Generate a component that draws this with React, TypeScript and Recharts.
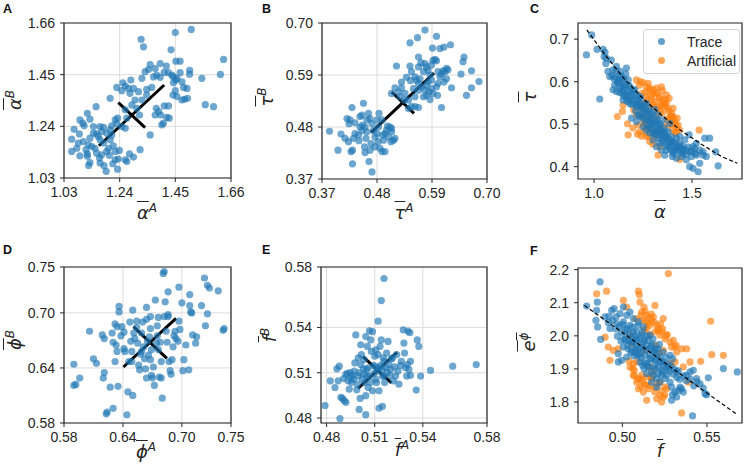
import React from 'react';
import {
  ScatterChart,
  Scatter,
  XAxis,
  YAxis,
  CartesianGrid,
  ReferenceLine,
  ReferenceArea,
} from 'recharts';

type Pt = [number, number];

const BLUE = '#1f77b4';
const ORANGE = '#ff7f0e';
const INK = '#262626';

// A: mean alpha, group A vs group B
const alphaAB: Pt[] = [
  [1.321, 1.594], [1.33, 1.563], [1.45, 1.621], [1.51, 1.634], [1.434, 1.551], [1.632, 1.512],
  [1.452, 1.505], [1.468, 1.505], [1.62, 1.451], [1.55, 1.435], [1.563, 1.328], [1.594, 1.32],
  [1.355, 1.491], [1.393, 1.495], [1.374, 1.475], [1.416, 1.485], [1.336, 1.462], [1.349, 1.471],
  [1.408, 1.459], [1.424, 1.458], [1.437, 1.448], [1.443, 1.441], [1.456, 1.435], [1.468, 1.458],
  [1.504, 1.468], [1.504, 1.452], [1.324, 1.435], [1.368, 1.441], [1.38, 1.448], [1.393, 1.439],
  [1.361, 1.398], [1.443, 1.417], [1.453, 1.428], [1.475, 1.421], [1.494, 1.394], [1.481, 1.398],
  [1.45, 1.385], [1.456, 1.361], [1.441, 1.367], [1.475, 1.347], [1.485, 1.35], [1.496, 1.354],
  [1.424, 1.323], [1.408, 1.323], [1.378, 1.313], [1.374, 1.286], [1.387, 1.3], [1.395, 1.286],
  [1.405, 1.253], [1.399, 1.246], [1.418, 1.277], [1.427, 1.273], [1.324, 1.347], [1.342, 1.39],
  [1.342, 1.367], [1.311, 1.381], [1.282, 1.428], [1.273, 1.394], [1.261, 1.404], [1.252, 1.417],
  [1.229, 1.398], [1.204, 1.354], [1.248, 1.385], [1.279, 1.374], [1.292, 1.394], [1.298, 1.347],
  [1.305, 1.313], [1.315, 1.286], [1.286, 1.327], [1.261, 1.307], [1.232, 1.273], [1.223, 1.266],
  [1.267, 1.273], [1.261, 1.232], [1.248, 1.239], [1.229, 1.25], [1.21, 1.242], [1.204, 1.226],
  [1.355, 1.205], [1.317, 1.145], [1.292, 1.115], [1.277, 1.128], [1.267, 1.097], [1.261, 1.104],
  [1.059, 1.188], [1.068, 1.228], [1.088, 1.209], [1.09, 1.266], [1.101, 1.253], [1.106, 1.242],
  [1.118, 1.293], [1.128, 1.269], [1.151, 1.32], [1.166, 1.239], [1.179, 1.236], [1.172, 1.219],
  [1.153, 1.209], [1.141, 1.212], [1.128, 1.192], [1.122, 1.165], [1.135, 1.158], [1.103, 1.178],
  [1.084, 1.172], [1.118, 1.128], [1.09, 1.12], [1.118, 1.118], [1.128, 1.093], [1.123, 1.081],
  [1.164, 1.111], [1.166, 1.091], [1.181, 1.08], [1.189, 1.057], [1.191, 1.138], [1.198, 1.151],
  [1.216, 1.161], [1.204, 1.185], [1.21, 1.205], [1.191, 1.212], [1.179, 1.172], [1.166, 1.185],
  [1.223, 1.104], [1.214, 1.088], [1.232, 1.066], [1.235, 1.107], [1.239, 1.142], [1.223, 1.138],
  [1.078, 1.151], [1.059, 1.138], [1.113, 1.145], [1.147, 1.151], [1.153, 1.131], [1.172, 1.124],
  [1.201, 1.122], [1.141, 1.239], [1.16, 1.199],
];

// B: mean tau, group A vs group B
const tauAB: Pt[] = [
  [0.385, 0.471], [0.402, 0.431], [0.408, 0.465], [0.42, 0.498], [0.424, 0.487], [0.426, 0.495],
  [0.43, 0.521], [0.431, 0.431], [0.433, 0.456], [0.436, 0.466], [0.431, 0.402], [0.443, 0.463],
  [0.446, 0.502], [0.45, 0.505], [0.453, 0.53], [0.451, 0.484], [0.456, 0.48], [0.46, 0.495],
  [0.463, 0.509], [0.466, 0.498], [0.47, 0.487], [0.473, 0.473], [0.458, 0.456], [0.455, 0.438],
  [0.456, 0.426], [0.466, 0.431], [0.468, 0.445], [0.476, 0.459], [0.48, 0.466], [0.483, 0.48],
  [0.484, 0.509], [0.49, 0.495], [0.491, 0.463], [0.496, 0.466], [0.499, 0.473], [0.503, 0.459],
  [0.506, 0.48], [0.509, 0.47], [0.513, 0.452], [0.516, 0.456], [0.508, 0.449], [0.49, 0.428],
  [0.486, 0.435], [0.496, 0.428], [0.464, 0.407], [0.47, 0.385], [0.46, 0.47], [0.444, 0.451],
  [0.423, 0.449], [0.416, 0.456], [0.428, 0.428], [0.476, 0.438], [0.482, 0.449], [0.493, 0.452],
  [0.436, 0.489], [0.446, 0.48], [0.48, 0.495], [0.501, 0.482], [0.509, 0.477], [0.45, 0.472],
  [0.519, 0.609], [0.529, 0.575], [0.539, 0.585], [0.516, 0.563], [0.523, 0.554], [0.526, 0.544],
  [0.536, 0.551], [0.546, 0.609], [0.549, 0.597], [0.547, 0.578], [0.556, 0.586], [0.559, 0.579],
  [0.563, 0.572], [0.566, 0.582], [0.563, 0.607], [0.568, 0.616], [0.573, 0.597], [0.576, 0.614],
  [0.579, 0.607], [0.582, 0.6], [0.586, 0.59], [0.589, 0.611], [0.592, 0.621], [0.596, 0.623],
  [0.599, 0.62], [0.602, 0.597], [0.606, 0.586], [0.609, 0.592], [0.612, 0.599], [0.616, 0.597],
  [0.619, 0.604], [0.622, 0.601], [0.614, 0.575], [0.599, 0.565], [0.589, 0.561], [0.584, 0.554],
  [0.579, 0.547], [0.573, 0.544], [0.569, 0.565], [0.563, 0.558], [0.553, 0.561], [0.556, 0.544],
  [0.543, 0.537], [0.549, 0.523], [0.556, 0.523], [0.563, 0.521], [0.543, 0.519], [0.535, 0.537],
  [0.586, 0.538], [0.592, 0.551], [0.601, 0.547], [0.609, 0.521], [0.629, 0.563], [0.648, 0.592],
  [0.652, 0.618], [0.654, 0.628], [0.669, 0.599], [0.669, 0.563], [0.659, 0.547], [0.684, 0.576],
  [0.606, 0.646], [0.614, 0.649], [0.627, 0.654], [0.591, 0.647], [0.561, 0.669], [0.576, 0.685],
  [0.599, 0.672], [0.546, 0.658], [0.563, 0.628], [0.509, 0.551], [0.529, 0.563], [0.579, 0.568],
  [0.575, 0.559], [0.602, 0.572], [0.619, 0.582], [0.589, 0.579], [0.582, 0.575],
];

// C: mean alpha vs mean tau
const traceAlphaTau: Pt[] = [
  [0.961, 0.663], [0.988, 0.71], [1.015, 0.676], [1.046, 0.676], [1.056, 0.669], [1.051, 0.659],
  [1.063, 0.655], [1.06, 0.643], [1.029, 0.559], [1.088, 0.651], [1.097, 0.628], [1.114, 0.636],
  [1.134, 0.624], [1.139, 0.612], [1.148, 0.6], [1.122, 0.6], [1.105, 0.592], [1.097, 0.581],
  [1.114, 0.577], [1.131, 0.585], [1.156, 0.592], [1.165, 0.632], [1.162, 0.618], [1.174, 0.604],
  [1.182, 0.588], [1.191, 0.573], [1.145, 0.573], [1.165, 0.565], [1.199, 0.557], [1.182, 0.549],
  [1.216, 0.541], [1.225, 0.557], [1.233, 0.565], [1.208, 0.581], [1.174, 0.557], [1.148, 0.557],
  [1.236, 0.541], [1.25, 0.526], [1.259, 0.534], [1.267, 0.51], [1.242, 0.518], [1.225, 0.522],
  [1.216, 0.506], [1.191, 0.514], [1.284, 0.494], [1.301, 0.502], [1.318, 0.486], [1.31, 0.482],
  [1.284, 0.479], [1.267, 0.486], [1.327, 0.475], [1.344, 0.471], [1.352, 0.463], [1.335, 0.455],
  [1.318, 0.447], [1.301, 0.463], [1.369, 0.467], [1.386, 0.455], [1.395, 0.471], [1.403, 0.459],
  [1.42, 0.447], [1.412, 0.439], [1.429, 0.439], [1.446, 0.443], [1.454, 0.431], [1.471, 0.439],
  [1.488, 0.435], [1.488, 0.4], [1.505, 0.396], [1.531, 0.388], [1.497, 0.424], [1.522, 0.427],
  [1.539, 0.439], [1.556, 0.435], [1.565, 0.467], [1.59, 0.467], [1.539, 0.408], [1.573, 0.424],
  [1.556, 0.427], [1.633, 0.402], [1.621, 0.435], [1.485, 0.475], [1.463, 0.463], [1.437, 0.455],
  [1.352, 0.51], [1.335, 0.498], [1.361, 0.482], [1.378, 0.482], [1.386, 0.502], [1.327, 0.522],
  [1.31, 0.534], [1.293, 0.522], [1.276, 0.53], [1.25, 0.494], [1.318, 0.506], [1.344, 0.439],
  [1.361, 0.427], [1.378, 0.447], [1.4, 0.435], [1.471, 0.416], [1.446, 0.424], [1.42, 0.42],
  [1.4, 0.424], [1.505, 0.447], [1.522, 0.455], [1.514, 0.443], [1.454, 0.447], [1.242, 0.545],
  [1.267, 0.549], [1.287, 0.51], [1.301, 0.479], [1.335, 0.482], [1.369, 0.439], [1.437, 0.471],
  [1.42, 0.467], [1.08, 0.612], [1.071, 0.624],
  [1.092, 0.614], [1.103, 0.606], [1.108, 0.611], [1.121, 0.596], [1.128, 0.603], [1.142, 0.588],
  [1.151, 0.579], [1.158, 0.586], [1.168, 0.571], [1.179, 0.576], [1.188, 0.561], [1.203, 0.566],
  [1.209, 0.549], [1.221, 0.546], [1.228, 0.552], [1.241, 0.536], [1.252, 0.541], [1.262, 0.521],
  [1.271, 0.526], [1.279, 0.509], [1.291, 0.516], [1.298, 0.499], [1.312, 0.506], [1.321, 0.494],
  [1.331, 0.489], [1.342, 0.486], [1.349, 0.478], [1.362, 0.474], [1.371, 0.469], [1.382, 0.466],
  [1.391, 0.458], [1.398, 0.449], [1.411, 0.456], [1.421, 0.444], [1.432, 0.451], [1.441, 0.434],
  [1.452, 0.441], [1.468, 0.429], [1.481, 0.446], [1.499, 0.436], [1.518, 0.431], [1.131, 0.574],
  [1.152, 0.566], [1.169, 0.554], [1.192, 0.546], [1.212, 0.531], [1.229, 0.519], [1.251, 0.511],
  [1.272, 0.498], [1.288, 0.491], [1.309, 0.476], [1.329, 0.466], [1.352, 0.456], [1.368, 0.451],
  [1.389, 0.441], [1.408, 0.431], [1.112, 0.626], [1.129, 0.614], [1.152, 0.606], [1.178, 0.591],
  [1.199, 0.581], [1.219, 0.569], [1.238, 0.561], [1.261, 0.546], [1.282, 0.536], [1.299, 0.524],
  [1.322, 0.511], [1.338, 0.501], [1.359, 0.491],
];
const artificialAlphaTau: Pt[] = [
  [1.119, 0.518], [1.145, 0.53], [1.148, 0.545], [1.174, 0.475], [1.242, 0.472], [1.216, 0.604],
  [1.236, 0.6], [1.25, 0.598], [1.267, 0.588], [1.276, 0.596], [1.284, 0.585], [1.301, 0.581],
  [1.318, 0.585], [1.335, 0.565], [1.349, 0.579], [1.352, 0.557], [1.369, 0.549], [1.361, 0.541],
  [1.378, 0.537], [1.395, 0.526], [1.403, 0.518], [1.386, 0.514], [1.412, 0.502], [1.42, 0.494],
  [1.429, 0.498], [1.437, 0.486], [1.42, 0.482], [1.4, 0.488], [1.378, 0.498], [1.338, 0.53],
  [1.327, 0.541], [1.31, 0.553], [1.293, 0.557], [1.267, 0.565], [1.259, 0.549], [1.242, 0.534],
  [1.25, 0.514], [1.225, 0.498], [1.233, 0.482], [1.267, 0.471], [1.284, 0.459], [1.301, 0.453],
  [1.31, 0.469], [1.276, 0.49], [1.318, 0.518], [1.335, 0.447], [1.352, 0.494], [1.327, 0.427],
  [1.437, 0.417], [1.536, 0.486], [1.349, 0.545], [1.369, 0.569], [1.383, 0.561], [1.403, 0.537],
  [1.424, 0.514], [1.412, 0.479], [1.395, 0.506], [1.293, 0.541], [1.281, 0.514], [1.259, 0.502],
  [1.202, 0.534], [1.216, 0.522], [1.298, 0.573], [1.321, 0.574], [1.344, 0.588], [1.366, 0.557],
  [1.301, 0.486], [1.259, 0.482],
  [1.231, 0.591], [1.262, 0.576], [1.289, 0.566], [1.312, 0.571], [1.331, 0.561], [1.342, 0.551],
  [1.358, 0.546], [1.381, 0.531], [1.392, 0.519], [1.409, 0.511], [1.302, 0.546], [1.322, 0.536],
  [1.348, 0.526], [1.372, 0.512], [1.401, 0.501], [1.271, 0.556], [1.281, 0.581], [1.243, 0.572],
  [1.198, 0.491], [1.222, 0.476], [1.279, 0.471], [1.171, 0.501], [1.256, 0.496],
];
const fitAlphaTau: Pt[] = [
  [0.963, 0.722], [1.05, 0.667], [1.15, 0.609], [1.25, 0.56], [1.35, 0.519],
  [1.45, 0.483], [1.55, 0.452], [1.65, 0.424], [1.731, 0.408],
];

// D: mean phi, group A vs group B
const phiAB: Pt[] = [
  [0.59, 0.644], [0.592, 0.622], [0.59, 0.621], [0.596, 0.629], [0.606, 0.68], [0.61, 0.65],
  [0.613, 0.645], [0.619, 0.676], [0.621, 0.672], [0.62, 0.629], [0.621, 0.635], [0.623, 0.59],
  [0.624, 0.592], [0.627, 0.619], [0.63, 0.596], [0.629, 0.678], [0.63, 0.668], [0.632, 0.688],
  [0.634, 0.685], [0.633, 0.665], [0.634, 0.658], [0.632, 0.647], [0.635, 0.62], [0.636, 0.707],
  [0.636, 0.701], [0.638, 0.675], [0.639, 0.685], [0.641, 0.679], [0.641, 0.661], [0.642, 0.658],
  [0.644, 0.589], [0.645, 0.614], [0.646, 0.647], [0.647, 0.69], [0.648, 0.669], [0.649, 0.658],
  [0.65, 0.703], [0.65, 0.61], [0.649, 0.647], [0.651, 0.678], [0.652, 0.672], [0.654, 0.684],
  [0.655, 0.667], [0.656, 0.643], [0.657, 0.638], [0.658, 0.655], [0.659, 0.678], [0.66, 0.69],
  [0.661, 0.663], [0.662, 0.65], [0.663, 0.639], [0.664, 0.706], [0.664, 0.629], [0.665, 0.669],
  [0.666, 0.654], [0.667, 0.674], [0.668, 0.683], [0.668, 0.696], [0.669, 0.66], [0.67, 0.629],
  [0.671, 0.641], [0.672, 0.621], [0.673, 0.714], [0.675, 0.675], [0.675, 0.686], [0.676, 0.66],
  [0.677, 0.63], [0.678, 0.668], [0.679, 0.647], [0.679, 0.629], [0.68, 0.607], [0.681, 0.743],
  [0.682, 0.745], [0.682, 0.696], [0.683, 0.712], [0.684, 0.68], [0.685, 0.668], [0.686, 0.723],
  [0.686, 0.696], [0.687, 0.647], [0.688, 0.637], [0.689, 0.633], [0.69, 0.649], [0.691, 0.663],
  [0.692, 0.675], [0.693, 0.68], [0.694, 0.672], [0.696, 0.669], [0.697, 0.691], [0.697, 0.728],
  [0.698, 0.682], [0.7, 0.711], [0.701, 0.637], [0.702, 0.649], [0.704, 0.665], [0.707, 0.638],
  [0.708, 0.708], [0.708, 0.72], [0.709, 0.701], [0.71, 0.7], [0.711, 0.676], [0.714, 0.667],
  [0.715, 0.674], [0.72, 0.708], [0.723, 0.738], [0.724, 0.686], [0.726, 0.73], [0.728, 0.727],
  [0.726, 0.699], [0.737, 0.724], [0.742, 0.681], [0.743, 0.683], [0.668, 0.649], [0.674, 0.667],
  [0.664, 0.693], [0.654, 0.691], [0.659, 0.658], [0.676, 0.695], [0.686, 0.698], [0.669, 0.632],
];

// E: mean f, group A vs group B
const fAB: Pt[] = [
  [0.5158, 0.5724], [0.5141, 0.5578], [0.5121, 0.5441], [0.5586, 0.5143], [0.5733, 0.5154],
  [0.5448, 0.5115], [0.5386, 0.5078], [0.5359, 0.4985], [0.479, 0.4883], [0.4883, 0.4796],
  [0.5127, 0.4865], [0.5148, 0.4878], [0.5044, 0.4822], [0.5003, 0.4857], [0.4823, 0.5046],
  [0.4852, 0.5002], [0.4864, 0.5126], [0.4879, 0.5143], [0.4872, 0.5046], [0.4889, 0.4937],
  [0.4899, 0.493], [0.491, 0.4915], [0.492, 0.4904], [0.4906, 0.5061], [0.492, 0.5089],
  [0.493, 0.5096], [0.4934, 0.5046], [0.4941, 0.4991], [0.4947, 0.51], [0.4951, 0.5067],
  [0.4955, 0.5035], [0.4961, 0.5083], [0.4972, 0.5111], [0.4968, 0.5057], [0.4976, 0.5165],
  [0.4982, 0.535], [0.4988, 0.4987], [0.4992, 0.5024], [0.4997, 0.5078], [0.5003, 0.51],
  [0.5009, 0.493], [0.5013, 0.5285], [0.5017, 0.522], [0.5023, 0.5057], [0.503, 0.5126],
  [0.5034, 0.5187], [0.5038, 0.5035], [0.5044, 0.4948], [0.505, 0.5122], [0.5054, 0.5274],
  [0.5059, 0.5002], [0.5065, 0.5078], [0.5067, 0.5378], [0.5075, 0.5317], [0.5079, 0.5241],
  [0.5086, 0.498], [0.5092, 0.5148], [0.5096, 0.5096], [0.51, 0.5209], [0.5106, 0.5057],
  [0.5112, 0.5035], [0.5117, 0.5111], [0.5121, 0.522], [0.5127, 0.498], [0.5133, 0.5274],
  [0.5137, 0.5148], [0.5141, 0.5317], [0.5148, 0.5078], [0.5154, 0.5198], [0.5158, 0.5176],
  [0.5162, 0.5035], [0.5168, 0.5133], [0.5174, 0.523], [0.5179, 0.51], [0.5183, 0.5307],
  [0.5189, 0.5154], [0.5195, 0.5083], [0.5199, 0.5122], [0.5203, 0.5191], [0.521, 0.5198],
  [0.5216, 0.5046], [0.5224, 0.5139], [0.523, 0.5078], [0.5237, 0.522], [0.5245, 0.5111],
  [0.5251, 0.5024], [0.5261, 0.5148], [0.5266, 0.5176], [0.5278, 0.5383], [0.5282, 0.5296],
  [0.5286, 0.523], [0.5292, 0.5133], [0.5299, 0.5078], [0.5303, 0.5154], [0.5307, 0.5376],
  [0.5313, 0.5122], [0.5319, 0.5365], [0.5323, 0.5176], [0.5323, 0.5083], [0.5365, 0.5317],
  [0.5375, 0.5274], [0.5044, 0.5339], [0.5086, 0.5372], [0.5106, 0.5252], [0.4997, 0.5198],
  [0.5013, 0.5154], [0.5034, 0.5089], [0.5059, 0.5133], [0.5075, 0.5035], [0.5106, 0.5139],
  [0.5127, 0.5133], [0.5148, 0.5122], [0.5158, 0.5078], [0.505, 0.5078],
];

// F: mean f vs mean e^phi
const traceFPhi: Pt[] = [
  [0.4789, 2.09], [0.4868, 2.163], [0.4852, 2.102], [0.4848, 2.077], [0.4844, 2.047], [0.4854, 2.027],
  [0.4872, 1.989], [0.4898, 2.057], [0.4917, 2.04], [0.4927, 2.022], [0.4937, 2.077], [0.4951, 2.082],
  [0.4963, 2.057], [0.4967, 2.037], [0.4976, 1.946], [0.4986, 2.067], [0.4996, 2.012], [0.5006, 2.042],
  [0.5016, 2.002], [0.5022, 1.986], [0.503, 2.022], [0.5035, 1.961], [0.5045, 2.032], [0.5055, 1.996],
  [0.5061, 1.981], [0.5065, 2.012], [0.5075, 1.951], [0.5081, 1.971], [0.5085, 1.991], [0.5089, 1.941],
  [0.5095, 1.961], [0.5104, 1.921], [0.5114, 1.951], [0.512, 1.911], [0.5128, 1.901], [0.5134, 1.941],
  [0.5144, 1.916], [0.5154, 1.906], [0.5163, 1.931], [0.5173, 1.891], [0.5183, 1.881], [0.5193, 1.901],
  [0.5203, 1.871], [0.5213, 1.886], [0.5222, 1.86], [0.5232, 1.881], [0.5242, 1.891], [0.5252, 1.871],
  [0.5262, 1.881], [0.5272, 1.901], [0.5282, 1.86], [0.5291, 1.845], [0.5297, 1.822], [0.5311, 1.83],
  [0.5321, 1.815], [0.5331, 1.835], [0.5341, 1.845], [0.535, 1.84], [0.536, 1.83], [0.538, 1.881],
  [0.54, 1.891], [0.5419, 1.896], [0.5439, 1.871], [0.5459, 1.855], [0.5478, 1.842], [0.5488, 1.825],
  [0.5498, 1.822], [0.5508, 1.873], [0.5597, 1.901], [0.5679, 1.891], [0.5291, 1.805], [0.5415, 1.758],
  [0.5282, 1.941], [0.5297, 1.931], [0.4996, 1.926], [0.4976, 1.921], [0.5006, 1.966], [0.5026, 2.062],
  [0.5045, 2.072], [0.5065, 2.052], [0.5114, 2.002], [0.5124, 1.981], [0.5144, 1.971], [0.5163, 1.961],
  [0.5183, 1.951], [0.5203, 1.941], [0.5222, 1.921], [0.5242, 1.911], [0.5262, 1.906], [0.5193, 1.926],
  [0.5213, 1.906], [0.5232, 1.896], [0.5144, 1.886], [0.5173, 1.86], [0.5203, 1.845], [0.5321, 1.891],
  [0.5144, 2.0], [0.5085, 2.012], [0.5055, 1.956], [0.5026, 1.936], [0.5095, 2.042], [0.5124, 2.027],
  [0.5163, 2.002], [0.5006, 2.087],
  [0.5003, 2.034], [0.5021, 2.019], [0.5042, 2.006], [0.5061, 2.026], [0.5072, 1.999], [0.5083, 1.984],
  [0.5092, 2.031], [0.5101, 1.994], [0.5113, 1.976], [0.5119, 2.011], [0.5132, 1.988], [0.5141, 1.959],
  [0.5152, 1.986], [0.5161, 1.944], [0.5172, 1.969], [0.5181, 1.991], [0.5188, 1.954], [0.5201, 1.929],
  [0.5209, 1.961], [0.5221, 1.939], [0.5229, 1.924], [0.5241, 1.951], [0.5249, 1.919], [0.5259, 1.934],
  [0.5271, 1.914], [0.5279, 1.894], [0.5289, 1.909], [0.5302, 1.884], [0.5308, 1.899], [0.5322, 1.874],
  [0.5331, 1.894], [0.5339, 1.869], [0.5362, 1.879], [0.5378, 1.864], [0.5401, 1.869], [0.5422, 1.849],
  [0.5441, 1.861], [0.5032, 1.971], [0.5051, 1.949], [0.5069, 1.939], [0.5012, 1.989], [0.4982, 2.029],
  [0.4961, 2.021], [0.4942, 2.046], [0.4922, 2.059], [0.4971, 1.999], [0.4992, 1.984], [0.5111, 1.934],
  [0.5129, 1.919], [0.5151, 1.909], [0.5169, 1.929], [0.5191, 1.909], [0.5079, 1.961], [0.5098, 1.944],
  [0.5121, 1.964], [0.5059, 1.979], [0.5041, 1.984], [0.5178, 1.974], [0.5198, 1.959], [0.5219, 1.974],
];
const artificialFPhi: Pt[] = [
  [0.4848, 2.127], [0.4907, 2.135], [0.4898, 1.996], [0.4917, 1.966], [0.4927, 1.926], [0.4947, 1.956],
  [0.4976, 1.961], [0.5006, 2.107], [0.5026, 2.087], [0.5041, 2.002], [0.5055, 1.976], [0.5045, 1.906],
  [0.5065, 1.916], [0.5071, 1.896], [0.5085, 1.921], [0.5095, 2.135], [0.51, 2.124], [0.5104, 2.102],
  [0.5114, 2.072], [0.512, 2.047], [0.5128, 2.087], [0.5134, 2.074], [0.5144, 2.062], [0.5154, 2.037],
  [0.5144, 2.022], [0.5163, 2.004], [0.5173, 2.047], [0.5183, 2.057], [0.5193, 2.092], [0.5199, 1.971],
  [0.5203, 2.032], [0.5213, 2.022], [0.5222, 2.002], [0.5232, 2.012], [0.5242, 2.052], [0.5252, 1.991],
  [0.5266, 2.004], [0.5272, 2.188], [0.5282, 1.981], [0.5291, 1.966], [0.5311, 1.966], [0.5321, 1.951],
  [0.535, 1.961], [0.538, 1.961], [0.5193, 2.012], [0.5085, 1.86], [0.5095, 1.84], [0.5104, 1.871],
  [0.5114, 1.881], [0.5124, 1.83], [0.5144, 1.805], [0.5154, 1.84], [0.5163, 1.85], [0.5173, 1.871],
  [0.5183, 1.891], [0.5193, 1.845], [0.5203, 1.81], [0.5222, 1.82], [0.5232, 1.8], [0.5242, 1.815],
  [0.5252, 1.845], [0.5262, 1.84], [0.5128, 1.855], [0.535, 1.767], [0.5463, 1.923], [0.5522, 2.044],
  [0.5528, 1.943], [0.5597, 1.941], [0.54, 1.921], [0.539, 1.86], [0.536, 1.906], [0.5282, 1.916],
  [0.5311, 1.921], [0.5242, 1.956], [0.5213, 1.946], [0.5134, 1.956], [0.5163, 1.906], [0.5222, 1.86],
  [0.5065, 1.881], [0.5144, 1.876],
  [0.5081, 2.051], [0.5109, 2.061], [0.5139, 2.044], [0.5161, 2.031], [0.5189, 2.041], [0.5211, 2.016],
  [0.5238, 2.021], [0.5259, 2.001], [0.5131, 2.019], [0.5171, 2.066], [0.5071, 1.879], [0.5092, 1.869],
  [0.5118, 1.866], [0.5141, 1.851], [0.5169, 1.874], [0.5191, 1.831], [0.5211, 1.856], [0.5229, 1.834],
  [0.5251, 1.821], [0.5109, 1.846], [0.5061, 1.901], [0.5039, 1.924], [0.5301, 1.986], [0.5318, 1.971],
  [0.5226, 2.036], [0.5156, 2.054],
];
const fitFPhi: Pt[] = [[0.4776, 2.092], [0.567, 1.765]];

// principal axes drawn as [x1, y1, x2, y2]
const crossA = [[1.162, 1.161, 1.408, 1.408], [1.235, 1.336, 1.336, 1.235]];
const crossB = [[0.468, 0.468, 0.594, 0.594], [0.5095, 0.554, 0.554, 0.509]];
const crossD = [[0.6405, 0.641, 0.694, 0.694], [0.6507, 0.685, 0.6847, 0.6505]];
const crossE = [[0.4996, 0.4996, 0.5239, 0.5235], [0.5027, 0.5206, 0.5204, 0.5033]];

const ticksA = [1.03, 1.24, 1.45, 1.66];
const ticksB = [0.37, 0.48, 0.59, 0.7];
const ticksCx = [1.0, 1.5];
const ticksCy = [0.4, 0.5, 0.6, 0.7];
const ticksD = [0.58, 0.64, 0.7, 0.75];
const ticksE = [0.48, 0.51, 0.54, 0.58];
const ticksFx = [0.5, 0.55];
const ticksFy = [1.8, 1.9, 2.0, 2.1, 2.2];

const legendItems = [
  { label: 'Trace', color: BLUE },
  { label: 'Artificial', color: ORANGE },
];

const toRows = (pts: Pt[]) => pts.map(([x, y]) => ({ x, y }));

const dot = (color: string) => (props: any) => (
  <circle cx={props.cx} cy={props.cy} r={3.6} fill={color} fillOpacity={0.65} />
);

const tickStyle = { fontSize: 14, fill: INK, fontFamily: '"Liberation Sans", Arial, sans-serif' };

interface PanelProps {
  left: number;
  top: number;
  w: number;
  h: number;
  xDomain: [number, number];
  yDomain: [number, number];
  xTicks: number[];
  yTicks: number[];
  xDigits: number;
  yDigits: number;
  grid?: boolean;
  series: { pts: Pt[]; color: string }[];
  cross?: number[][];
  fit?: Pt[];
}

const Panel: React.FC<PanelProps> = ({
  left, top, w, h, xDomain, yDomain, xTicks, yTicks, xDigits, yDigits, grid, series, cross, fit,
}) => (
  <div style={{ position: 'absolute', left: left - 60, top: top - 10 }}>
    <ScatterChart width={w + 85} height={h + 50} margin={{ top: 10, right: 25, bottom: 0, left: 0 }}>
      {grid && <CartesianGrid stroke="#dcdcdc" strokeWidth={1} />}
      <XAxis
        type="number"
        dataKey="x"
        domain={xDomain}
        ticks={xTicks}
        interval={0}
        allowDataOverflow
        height={40}
        axisLine={false}
        tickSize={4}
        tickMargin={5}
        tickLine={{ stroke: INK }}
        tick={tickStyle}
        tickFormatter={(v: number) => v.toFixed(xDigits)}
      />
      <YAxis
        type="number"
        dataKey="y"
        domain={yDomain}
        ticks={yTicks}
        interval={0}
        allowDataOverflow
        width={60}
        axisLine={false}
        tickSize={4}
        tickMargin={5}
        tickLine={{ stroke: INK }}
        tick={tickStyle}
        tickFormatter={(v: number) => v.toFixed(yDigits)}
      />
      {series.map((s, i) => (
        <Scatter key={i} data={toRows(s.pts)} shape={dot(s.color)} isAnimationActive={false} />
      ))}
      {fit && (
        <Scatter
          data={toRows(fit)}
          line={{ stroke: '#000', strokeWidth: 1.2, strokeDasharray: '4 2.5' }}
          lineType="joint"
          shape={() => <g />}
          isAnimationActive={false}
        />
      )}
      {cross &&
        cross.map(([x1, y1, x2, y2], i) => (
          <ReferenceLine
            key={i}
            segment={[{ x: x1, y: y1 }, { x: x2, y: y2 }]}
            stroke="#000"
            strokeWidth={3}
          />
        ))}
      <ReferenceArea
        x1={xDomain[0]}
        x2={xDomain[1]}
        y1={yDomain[0]}
        y2={yDomain[1]}
        fill="none"
        stroke={INK}
        strokeWidth={1.2}
        ifOverflow="visible"
      />
    </ScatterChart>
  </div>
);

const labelFont = '"DejaVu Sans", sans-serif';

const AxisLabel = ({ x, y, rotate, children }: { x: number; y: number; rotate?: boolean; children: React.ReactNode }) => (
  <div
    style={{
      position: 'absolute',
      left: x,
      top: y,
      transform: `translate(-50%, -50%)${rotate ? ' rotate(-90deg)' : ''}`,
      fontFamily: labelFont,
      fontSize: 18,
      color: INK,
      whiteSpace: 'nowrap',
      lineHeight: 1,
    }}
  >
    {children}
  </div>
);

const Bar = ({ s }: { s: string }) => (
  <span style={{ textDecoration: 'overline', fontStyle: 'italic' }}>{s}</span>
);
const Sup = ({ s }: { s: string }) => (
  <sup style={{ fontSize: 12, fontStyle: 'italic', verticalAlign: 'super' }}>{s}</sup>
);

const PanelLetter = ({ x, y, s }: { x: number; y: number; s: string }) => (
  <div
    style={{
      position: 'absolute',
      left: x,
      top: y,
      fontFamily: '"Liberation Sans", Arial, sans-serif',
      fontWeight: 'bold',
      fontSize: 12.5,
      color: '#111',
      lineHeight: 1,
    }}
  >
    {s}
  </div>
);

export default function App() {
  return (
    <div style={{ position: 'absolute', left: 0, top: 0, width: 747, height: 472, background: '#fff', overflow: 'hidden' }}>
      <Panel left={64} top={23} w={167} h={155} xDomain={[1.03, 1.66]} yDomain={[1.03, 1.66]}
        xTicks={ticksA} yTicks={ticksA} xDigits={2} yDigits={2} grid
        series={[{ pts: alphaAB, color: BLUE }]} cross={crossA} />
      <Panel left={322} top={23} w={165} h={156} xDomain={[0.37, 0.7]} yDomain={[0.37, 0.7]}
        xTicks={ticksB} yTicks={ticksB} xDigits={2} yDigits={2} grid
        series={[{ pts: tauAB, color: BLUE }]} cross={crossB} />
      <Panel left={578} top={23} w={164} h={156} xDomain={[0.918, 1.755]} yDomain={[0.371, 0.738]}
        xTicks={ticksCx} yTicks={ticksCy} xDigits={1} yDigits={1}
        series={[{ pts: artificialAlphaTau, color: ORANGE }, { pts: traceAlphaTau, color: BLUE }]}
        fit={fitAlphaTau} />
      <Panel left={64} top={267} w={167} h={156} xDomain={[0.58, 0.75]} yDomain={[0.58, 0.75]}
        xTicks={ticksD} yTicks={ticksD} xDigits={2} yDigits={2} grid
        series={[{ pts: phiAB, color: BLUE }]} cross={crossD} />
      <Panel left={321} top={267} w={166} h={156} xDomain={[0.4765, 0.58]} yDomain={[0.4767, 0.58]}
        xTicks={ticksE} yTicks={ticksE} xDigits={2} yDigits={2} grid
        series={[{ pts: fAB, color: BLUE }]} cross={crossE} />
      <Panel left={578} top={268} w={164} h={155} xDomain={[0.4738, 0.5707]} yDomain={[1.7365, 2.205]}
        xTicks={ticksFx} yTicks={ticksFy} xDigits={2} yDigits={1}
        series={[{ pts: artificialFPhi, color: ORANGE }, { pts: traceFPhi, color: BLUE }]}
        fit={fitFPhi} />

      <div
        style={{
          position: 'absolute', left: 643, top: 29, width: 95, height: 43,
          border: '1px solid #d4d4d4', borderRadius: 3, background: 'rgba(255,255,255,0.85)',
          fontFamily: '"Liberation Sans", Arial, sans-serif', fontSize: 14, color: INK,
        }}
      >
        {legendItems.map((it, i) => (
          <div key={it.label} style={{ position: 'absolute', left: 0, top: 4 + i * 19, height: 16, display: 'flex', alignItems: 'center' }}>
            <span style={{ position: 'absolute', left: 14, top: 4, width: 7, height: 7, borderRadius: '50%', background: it.color, opacity: 0.7 }} />
            <span style={{ position: 'absolute', left: 43, top: 0, lineHeight: '16px' }}>{it.label}</span>
          </div>
        ))}
      </div>

      <AxisLabel x={147} y={212}><Bar s="α" /><Sup s="A" /></AxisLabel>
      <AxisLabel x={14} y={100} rotate><Bar s="α" /><Sup s="B" /></AxisLabel>
      <AxisLabel x={404} y={212}><Bar s="τ" /><Sup s="A" /></AxisLabel>
      <AxisLabel x={266} y={97} rotate><Bar s="τ" /><Sup s="B" /></AxisLabel>
      <AxisLabel x={660} y={212}><Bar s="α" /></AxisLabel>
      <AxisLabel x={530} y={97} rotate><Bar s="τ" /></AxisLabel>
      <AxisLabel x={146} y={451}><Bar s="ϕ" /><Sup s="A" /></AxisLabel>
      <AxisLabel x={14} y={340} rotate><Bar s="ϕ" /><Sup s="B" /></AxisLabel>
      <AxisLabel x={402} y={449}><Bar s="f" /><Sup s="A" /></AxisLabel>
      <AxisLabel x={269} y={335} rotate><Bar s="f" /><Sup s="B" /></AxisLabel>
      <AxisLabel x={660} y={451}><Bar s="f" /></AxisLabel>
      <AxisLabel x={528} y={342} rotate>
        <span style={{ textDecoration: 'overline', fontStyle: 'italic' }}>
          e<sup style={{ fontSize: 12, verticalAlign: 'super' }}>ϕ</sup>
        </span>
      </AxisLabel>

      <PanelLetter x={3} y={3} s="A" />
      <PanelLetter x={262} y={3} s="B" />
      <PanelLetter x={530} y={3} s="C" />
      <PanelLetter x={3} y={244} s="D" />
      <PanelLetter x={262} y={244} s="E" />
      <PanelLetter x={530} y={245} s="F" />
    </div>
  );
}
